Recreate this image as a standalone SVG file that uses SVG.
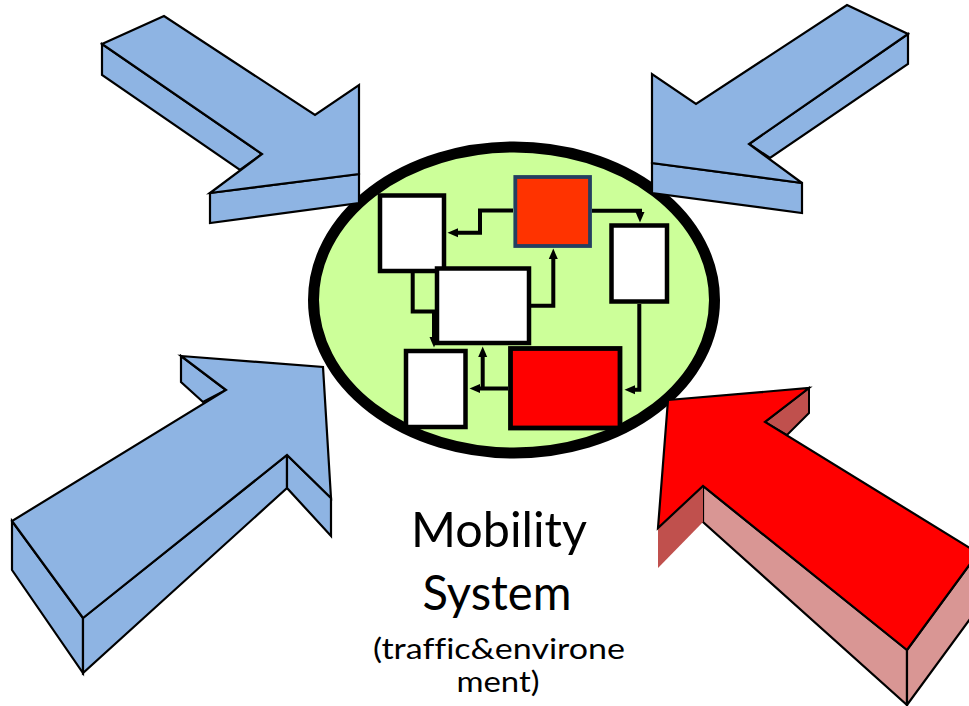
<svg xmlns="http://www.w3.org/2000/svg" width="969" height="706" viewBox="0 0 969 706">
<style>
.blue{fill:#8EB4E3;stroke:#000;stroke-width:2.2;stroke-linejoin:miter}
.rtop{fill:#FF0000;stroke:#000;stroke-width:2.2}
.rdark{fill:#C0504D;stroke:#000;stroke-width:2}
.rside{fill:#D99694;stroke:#000;stroke-width:2.2}
.box{fill:#FFFFFF;stroke:#000;stroke-width:4.5}
.conn{fill:none;stroke:#000;stroke-width:4;stroke-linejoin:miter}
.lbl{font-family:Lato,"Open Sans","Liberation Sans",sans-serif;fill:#000;text-anchor:middle;font-variant-ligatures:none;font-feature-settings:"liga" 0}
</style>
<defs>
<marker id="ah" markerUnits="userSpaceOnUse" markerWidth="11" markerHeight="10" refX="0" refY="4.5" orient="auto" viewBox="0 0 11 9">
<path d="M0,0 L10.5,4.5 L0,9 z" fill="#000"/>
</marker>
</defs>
<rect width="969" height="706" fill="#fff"/>
<g id="system">
<ellipse cx="514" cy="300" rx="200.5" ry="153" fill="#CCFF99" stroke="#000" stroke-width="11"/>
</g>
<g id="connectors">
<path class="conn" d="M513,210.5 H480 V232.7 H458" marker-end="url(#ah)"/>
<path class="conn" d="M592,210.7 H640 V212" marker-end="url(#ah)"/>
<path class="conn" d="M531,305.7 H553.3 V259" marker-end="url(#ah)"/>
<path class="conn" d="M412.7,273 V311.5 H434 V337" marker-end="url(#ah)"/>
<path class="conn" d="M508,388.5 H480" marker-end="url(#ah)"/>
<path class="conn" d="M482.7,390 V357" marker-end="url(#ah)"/>
<path class="conn" d="M639.3,304 V389.7 H635" marker-end="url(#ah)"/>
</g>
<g id="box-a"><rect class="box" x="380" y="195.5" width="64" height="75.5"/></g>
<g id="box-b"><rect x="515.3" y="177" width="74.7" height="69" fill="#FF3300" stroke="#243F60" stroke-width="3.8"/></g>
<g id="box-c"><rect class="box" x="611.5" y="225.5" width="55.5" height="76"/></g>
<g id="box-d"><rect class="box" x="437" y="268.5" width="92" height="74.5"/></g>
<g id="box-e"><rect class="box" x="406" y="351" width="59.5" height="76"/></g>
<g id="box-f"><rect x="510.5" y="348.5" width="109.5" height="79.5" fill="#FF0000" stroke="#000" stroke-width="4.8"/></g>
<g id="arrow-top-left">
<polygon class="blue" points="102,44 262,154 240,170 102,75"/>
<polygon class="blue" points="210,193 359,174 359,203 210,223"/>
<polygon class="blue" points="102,44 164,16 315,115 359,85 359,174 210,193 262,154"/>
</g>
<g id="arrow-top-right">
<polygon class="blue" points="908,34 908,64 770,158 749,144"/>
<polygon class="blue" points="652,163 802,183 802,213 652,193"/>
<polygon class="blue" points="847,5 908,34 749,144 802,183 652,163 652,74 696,104"/>
</g>
<g id="arrow-bottom-left">
<polygon class="blue" points="181,356 181,382 203,402 226,390"/>
<polygon class="blue" points="12,521 83,618 83,673 12,570"/>
<polygon class="blue" points="83,618 287,455 287,488 83,673"/>
<polygon class="blue" points="287,455 331,498 331,536 287,488"/>
<polygon class="blue" points="181,356 323,367 331,498 287,455 83,618 12,521 226,390"/>
</g>
<g id="arrow-bottom-right">
<polygon class="rside" points="703,486 907,650 907,705 703,522"/>
<polygon class="rside" points="907,650 978,553 978,608 907,705"/>
<polygon class="rdark" points="809,388 809,413 787,435 765,422"/>
<polygon points="658,528 703,486 703,522 658,568" fill="#C0504D"/>
<polygon class="rtop" points="668,400 809,388 765,422 978,553 907,650 703,486 658,528"/>
</g>
<g id="label">
<text class="lbl" x="499" y="547" font-size="48" textLength="176" lengthAdjust="spacingAndGlyphs">Mobility</text>
<text class="lbl" x="497" y="610" font-size="48" textLength="149" lengthAdjust="spacingAndGlyphs">System</text>
<text class="lbl" x="499" y="659" font-size="29" textLength="252" lengthAdjust="spacingAndGlyphs">(traffic&amp;environe</text>
<text class="lbl" x="498" y="692" font-size="29" textLength="83" lengthAdjust="spacingAndGlyphs">ment)</text>
</g>
</svg>
